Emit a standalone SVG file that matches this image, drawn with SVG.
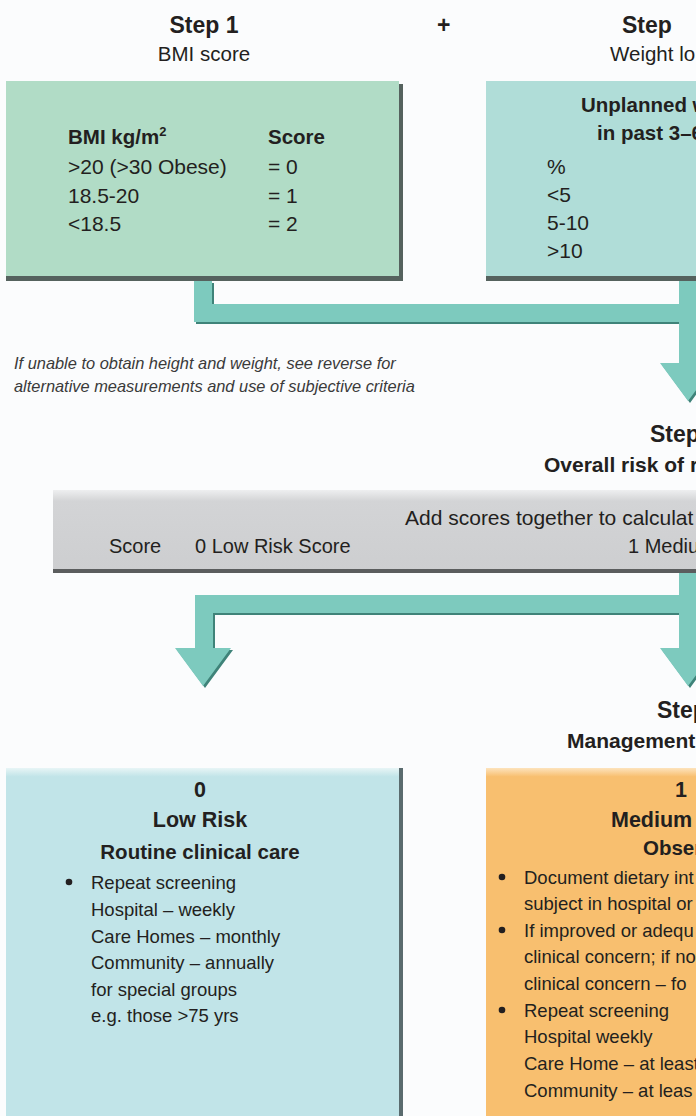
<svg xmlns="http://www.w3.org/2000/svg" width="696" height="1116" viewBox="0 0 696 1116">
<defs>
<style>
text{font-family:"Liberation Sans",Arial,sans-serif;fill:#231f20}
.h{font-size:23px;font-weight:bold}
.hs{font-size:21px;font-weight:bold}
.sub{font-size:20.5px}
.t{font-size:21px}
.tb{font-size:20.5px;font-weight:bold}
.it{font-size:16.4px;font-style:italic;fill:#3a3a3a}
.g{font-size:20px}
.ga{font-size:21px}
.p{font-size:18.5px}
.rt{font-size:21.5px;font-weight:bold}
.c{text-anchor:middle}
.sh{fill:#55625e}
.arrow{fill:#7dcabe}
.arrowsh{fill:#3f8379}
.dot{fill:#231f20}
</style>
<linearGradient id="greyG" x1="0" y1="0" x2="0" y2="1">
<stop offset="0" stop-color="#eeeff0"/>
<stop offset="0.14" stop-color="#d3d4d6"/>
<stop offset="1" stop-color="#cdced0"/>
</linearGradient>
<linearGradient id="blueG" x1="0" y1="0" x2="0" y2="1">
<stop offset="0" stop-color="#e8f5f6"/>
<stop offset="0.025" stop-color="#c1e4e8"/>
<stop offset="1" stop-color="#c1e4e8"/>
</linearGradient>
<linearGradient id="orangeG" x1="0" y1="0" x2="0" y2="1">
<stop offset="0" stop-color="#fde3bd"/>
<stop offset="0.025" stop-color="#f8bf6f"/>
<stop offset="1" stop-color="#f8bf6f"/>
</linearGradient>
</defs>
<rect x="0" y="0" width="696" height="1116" fill="#fbfcfd"/>

<g id="connectors">
<path class="arrowsh" transform="translate(2,2)" d="M194,281 H212 V304 H679 V281 H697 V363 H716 L688,401 L660,363 H679 V322 H194 Z"/>
<path class="arrow" d="M194,281 H212 V304 H679 V281 H697 V363 H716 L688,401 L660,363 H679 V322 H194 Z"/>
<path class="arrowsh" transform="translate(2,2)" d="M679,573 H697 V648 H716 L688,686 L660,648 H679 V613 H213 V648 H231 L203,686 L175,648 H195 V595 H679 Z"/>
<path class="arrow" d="M679,573 H697 V648 H716 L688,686 L660,648 H679 V613 H213 V648 H231 L203,686 L175,648 H195 V595 H679 Z"/>
</g>

<g id="step1-head">
<text class="h c" x="204" y="33">Step 1</text>
<text class="sub c" x="204" y="61">BMI score</text>
</g>
<g id="plus"><text class="h" x="437" y="33">+</text></g>
<g id="step2-head">
<text class="h" x="622" y="33">Step</text>
<text class="sub" x="610" y="61">Weight lo</text>
</g>

<g id="bmi-box">
<rect class="sh" x="6" y="84" width="397" height="197"/>
<rect x="6" y="81" width="393" height="195" fill="#b1dcc6"/>
<text class="tb" x="68" y="144">BMI kg/m<tspan font-size="13" dy="-8">2</tspan></text>
<text class="tb" x="268" y="144">Score</text>
<text class="t" x="68" y="174">&gt;20 (&gt;30 Obese)</text>
<text class="t" x="268" y="174">= 0</text>
<text class="t" x="68" y="203">18.5-20</text>
<text class="t" x="268" y="203">= 1</text>
<text class="t" x="68" y="231">&lt;18.5</text>
<text class="t" x="268" y="231">= 2</text>
</g>

<g id="weight-box">
<rect class="sh" x="486" y="84" width="215" height="197"/>
<rect x="486" y="81" width="215" height="195" fill="#b0ddd8"/>
<text class="tb" x="581" y="112">Unplanned w</text>
<text class="tb" x="597" y="140">in past 3–6</text>
<text class="t" x="547" y="174">%</text>
<text class="t" x="547" y="202">&lt;5</text>
<text class="t" x="547" y="230">5-10</text>
<text class="t" x="547" y="258">&gt;10</text>
</g>

<g id="note">
<text class="it" x="14" y="369">If unable to obtain height and weight, see reverse for</text>
<text class="it" x="14" y="392">alternative measurements and use of subjective criteria</text>
</g>

<g id="step3-head">
<text class="h" x="650" y="442">Step</text>
<text class="hs" x="544" y="472">Overall risk of r</text>
</g>

<g id="score-bar">
<rect x="53" y="490" width="650" height="83" fill="#5b5d5e"/>
<rect x="53" y="490" width="650" height="79" fill="url(#greyG)"/>
<text class="ga" x="405" y="525">Add scores together to calculat</text>
<text class="g" x="109" y="553">Score</text>
<text class="g" x="195" y="553">0 Low Risk Score</text>
<text class="g" x="628" y="553">1 Mediu</text>
</g>

<g id="step4-head">
<text class="h" x="657" y="718">Step</text>
<text class="hs" x="567" y="748">Management</text>
</g>

<g id="low-risk">
<rect x="398" y="768" width="5" height="348" fill="#5a6b6e"/>
<rect x="6" y="768" width="393" height="348" fill="url(#blueG)"/>
<text class="rt c" x="200" y="797">0</text>
<text class="rt c" x="200" y="827">Low Risk</text>
<text class="tb c" x="200" y="859">Routine clinical care</text>
<circle class="dot" cx="69" cy="882" r="3.3"/>
<text class="p" x="91" y="889">Repeat screening</text>
<text class="p" x="91" y="916">Hospital – weekly</text>
<text class="p" x="91" y="943">Care Homes – monthly</text>
<text class="p" x="91" y="969">Community – annually</text>
<text class="p" x="91" y="996">for special groups</text>
<text class="p" x="91" y="1022">e.g. those &gt;75 yrs</text>
</g>

<g id="medium-risk">
<rect x="486" y="768" width="215" height="348" fill="url(#orangeG)"/>
<text class="rt c" x="681" y="797">1</text>
<text class="rt" x="611" y="827">Medium</text>
<text class="tb" x="643" y="855">Obser</text>
<circle class="dot" cx="502" cy="877" r="3.3"/>
<text class="p" x="524" y="884">Document dietary int</text>
<text class="p" x="524" y="910">subject in hospital or</text>
<circle class="dot" cx="502" cy="930" r="3.3"/>
<text class="p" x="524" y="937">If improved or adequ</text>
<text class="p" x="524" y="963">clinical concern; if no</text>
<text class="p" x="524" y="990">clinical concern – fo</text>
<circle class="dot" cx="502" cy="1010" r="3.3"/>
<text class="p" x="524" y="1017">Repeat screening</text>
<text class="p" x="524" y="1043">Hospital weekly</text>
<text class="p" x="524" y="1070">Care Home – at least</text>
<text class="p" x="524" y="1097">Community – at leas</text>
</g>
</svg>
